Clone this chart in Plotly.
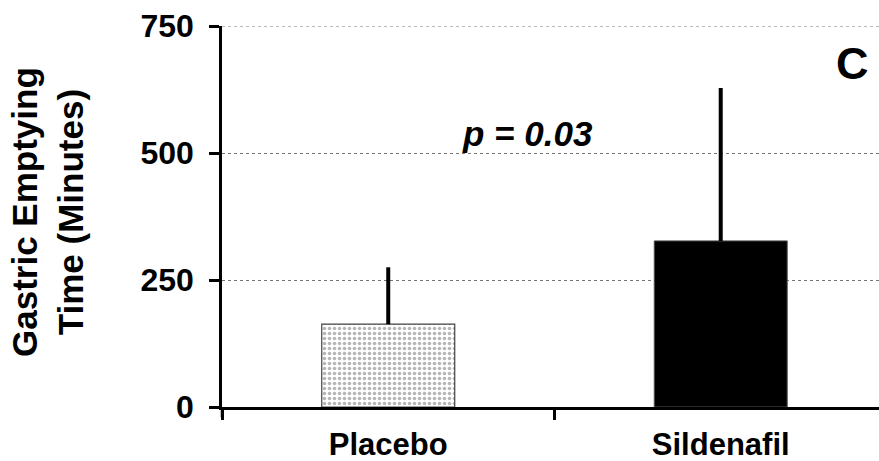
import plotly.graph_objects as go

categories = ["Placebo", "Sildenafil"]
means = [163, 327]
sd_upper = [112, 301]
y_ticks = [0, 250, 500, 750]

FONT = "Liberation Sans, Arial, sans-serif"

fig = go.Figure()
fig.add_trace(go.Bar(
    x=[categories[0]], y=[means[0]], width=0.4,
    marker=dict(color="white", line=dict(color="#444", width=1.2),
                pattern=dict(shape=".", fgcolor="#6e6e6e", bgcolor="white", size=5, solidity=0.4)),
    error_y=dict(type="data", array=[sd_upper[0]], arrayminus=[0], symmetric=False,
                 color="black", thickness=4, width=0),
))
fig.add_trace(go.Bar(
    x=[categories[1]], y=[means[1]], width=0.4,
    marker=dict(color="black", line=dict(color="#555", width=1)),
    error_y=dict(type="data", array=[sd_upper[1]], arrayminus=[0], symmetric=False,
                 color="black", thickness=4, width=0),
))

fig.update_layout(
    width=879, height=461,
    margin=dict(l=222, r=0, t=26, b=54),
    paper_bgcolor="white", plot_bgcolor="white",
    showlegend=False, barmode="overlay",
    font=dict(family=FONT, color="black"),
    xaxis=dict(
        type="category", categoryorder="array", categoryarray=categories,
        range=[-0.5, 1.476], automargin=False,
        showline=True, linecolor="black", linewidth=2.5,
        ticks="outside", tickson="boundaries", ticklen=10, tickwidth=2.5, tickcolor="black",
        tickfont=dict(size=31, family=FONT, color="black", weight="bold"),
        ticklabelstandoff=8,
        showgrid=False, zeroline=False,
    ),
    yaxis=dict(
        range=[0, 750], tickvals=y_ticks, automargin=False,
        showline=True, linecolor="black", linewidth=2.5,
        ticks="outside", ticklen=10, tickwidth=2.5, tickcolor="black",
        tickfont=dict(size=32, family=FONT, color="black", weight="bold"),
        ticklabelstandoff=9,
        showgrid=True, gridcolor="#777", griddash="dot", gridwidth=1,
        zeroline=False,
    ),
)

# top gridline at 750
fig.add_shape(type="line", xref="paper", yref="y", x0=0, x1=1, y0=y_ticks[-1], y1=y_ticks[-1],
              line=dict(color="#777", width=1, dash="dot"))
# y axis extension below the x axis
fig.add_shape(type="line", xref="paper", yref="paper", x0=0, x1=0, y0=0, y1=-0.027,
              line=dict(color="black", width=2.5))

fig.add_annotation(
    text="Gastric Emptying<br>Time (Minutes)", textangle=-90,
    xref="paper", yref="paper", x=(47 - 222) / 657, y=(407 - 212) / 381,
    xanchor="center", yanchor="middle", showarrow=False,
    font=dict(size=35, family=FONT, color="black", weight="bold"),
)
fig.add_annotation(
    text="<b><i>p = 0.03</i></b>",
    xref="paper", yref="paper", x=(527 - 222) / 657, y=(407 - 133) / 381,
    xanchor="center", yanchor="middle", showarrow=False,
    font=dict(size=35, family=FONT, color="black"),
)
fig.add_annotation(
    text="<b>C</b>",
    xref="paper", yref="paper", x=(852 - 222) / 657, y=(407 - 63) / 381,
    xanchor="center", yanchor="middle", showarrow=False,
    font=dict(size=45, family=FONT, color="black"),
)

fig.write_html("out.html", config={"displayModeBar": False},
               post_script="document.body.style.margin='0';document.body.style.overflow='hidden';")
